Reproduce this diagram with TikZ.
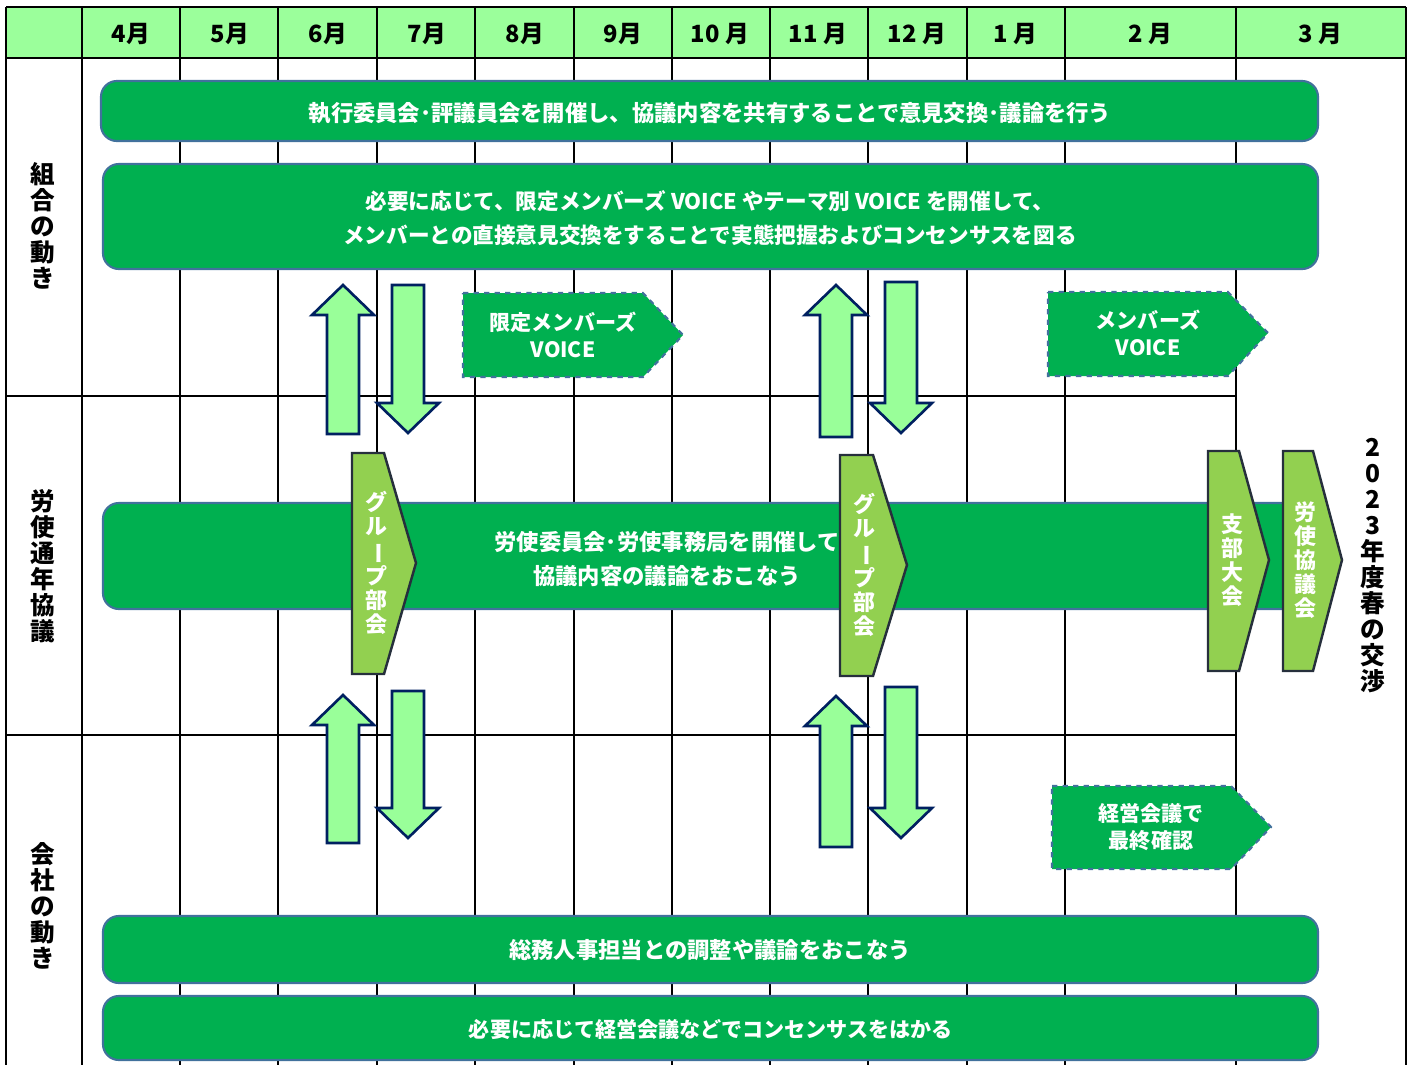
\documentclass[tikz,border=0pt]{standalone}
\usepackage{fontspec}
\usepackage{graphicx}
\setmainfont{Noto Sans CJK JP}
\newfontfamily\jp{Noto Sans CJK JP}
\definecolor{barGreen}{HTML}{00B050}
\definecolor{barEdge}{HTML}{41719C}
\definecolor{headGreen}{HTML}{9BFF9B}
\definecolor{pentGreen}{HTML}{92D050}
\definecolor{pentEdge}{HTML}{262F3C}
\definecolor{arrFill}{HTML}{99FF99}
\definecolor{arrEdge}{HTML}{002060}
\newcommand\vlong{\rotatebox[origin=c]{-90}{ー}}
\newcommand\UpArr[4]{% cx, tip y, head base y, bottom y
  \draw[blockarrow] (#1-16,#4) -- (#1-16,#3) -- (#1-31,#3) -- (#1,#2) -- (#1+31,#3) -- (#1+16,#3) -- (#1+16,#4) -- cycle;}
\newcommand\DnArr[4]{% cx, top y, head base y, tip y
  \draw[blockarrow] (#1-16,#2) -- (#1+16,#2) -- (#1+16,#3) -- (#1+31,#3) -- (#1,#4) -- (#1-31,#3) -- (#1-16,#3) -- cycle;}
\tikzset{
  gridline/.style={line width=1.5pt, black},
  bar/.style={fill=barGreen, draw=barEdge, line width=1.2pt, rounded corners=9pt},
  dpent/.style={fill=barGreen, draw=barEdge, dashed, line width=1.2pt},
  lpent/.style={fill=pentGreen, draw=pentEdge, line width=1.4pt},
  blockarrow/.style={fill=arrFill, draw=arrEdge, line width=1.5pt, line join=miter},
  wtxt/.style={text=white, font=\jp\bfseries\fontsize{12.7}{19.2}\selectfont, align=center, inner sep=0pt},
  htxt/.style={text=black, font=\jp\bfseries\fontsize{13.5}{15}\selectfont, inner sep=0pt},
  vtxt/.style={text=black, font=\jp\bfseries\fontsize{14}{14.8}\selectfont, align=center, inner sep=0pt},
  vwtxt/.style={text=white, font=\jp\bfseries\fontsize{12.5}{13.6}\selectfont, align=center, inner sep=0pt},
}
\begin{document}
\begin{tikzpicture}[x=0.02cm, y=-0.02cm]
\useasboundingbox (0,0) rectangle (1411,1065);
% header
\fill[headGreen] (6,7) rectangle (1406,58);
% grid
\foreach \xx in {6,82,180,278,377,475,574,672,770,868,967,1065,1236,1406}
  \draw[gridline] (\xx,7) -- (\xx,1065);
\draw[gridline] (6,7) -- (1406,7);
\draw[gridline] (6,58) -- (1406,58);
\draw[gridline] (6,396) -- (1236,396);
\draw[gridline] (6,735) -- (1236,735);
% header labels
\foreach \xx/\lab [count=\i] in {131/4月,230/5月,328/6月,427/7月,525/8月,623/9月,720/10 月,818/11 月,917/12 月,1015/1 月,1150/2 月,1320/3 月}
  \node[htxt] (h\i) at (\xx,34) {\lab};
% row labels
\node[vtxt] (r1) at (43,226) {組\\合\\の\\動\\き};
\node[vtxt] (r2) at (43,566) {労\\使\\通\\年\\協\\議};
\node[vtxt] (r3) at (43,906) {会\\社\\の\\動\\き};
\node[vtxt] (spring) at (1373,566) {2\\0\\2\\3\\年\\度\\春\\の\\交\\渉};
% bars
\draw[bar] (101,81) rectangle (1318,141);
\node[wtxt] (b1) at (710,113) {執行委員会･評議員会を開催し、協議内容を共有することで意見交換･議論を行う};
\draw[bar] (103,164) rectangle (1318,269);
\node[wtxt,font=\jp\bfseries\fontsize{12.3}{19.2}\selectfont] (b2) at (710,218) {必要に応じて、限定メンバーズ VOICE やテーマ別 VOICE を開催して、\\メンバーとの直接意見交換をすることで実態把握およびコンセンサスを図る};
\draw[bar] (103,503) rectangle (1305,609);
\node[wtxt] (b3) at (667,559) {労使委員会･労使事務局を開催して\\協議内容の議論をおこなう};
\draw[bar] (103,916) rectangle (1318,983);
\node[wtxt] (b4) at (710,950) {総務人事担当との調整や議論をおこなう};
\draw[bar] (103,996) rectangle (1318,1060);
\node[wtxt,font=\jp\bfseries\fontsize{12}{18}\selectfont] (b5) at (711,1029) {必要に応じて経営会議などでコンセンサスをはかる};
% dashed pentagons
\draw[dpent] (463,293) -- (643,293) -- (683,335) -- (643,377) -- (463,377) -- cycle;
\node[wtxt,font=\jp\bfseries\fontsize{12}{15.5}\selectfont] (p1) at (563,335) {限定メンバーズ\\VOICE};
\draw[dpent] (1048,292) -- (1228,292) -- (1268,333) -- (1228,376) -- (1048,376) -- cycle;
\node[wtxt,font=\jp\bfseries\fontsize{12}{15.5}\selectfont] (p2) at (1148,333) {メンバーズ\\VOICE};
\draw[dpent] (1052,786) -- (1231,786) -- (1271,827) -- (1231,869) -- (1052,869) -- cycle;
\node[wtxt,font=\jp\bfseries\fontsize{12}{15}\selectfont] (p3) at (1151,827) {経営会議で\\最終確認};
% light pentagons
\draw[lpent] (352,453) -- (384,453) -- (416,563) -- (384,674) -- (352,674) -- cycle;
\node[vwtxt] (g1) at (376,563) {グ\\ル\\\vlong\\プ\\部\\会};
\draw[lpent] (840,455) -- (873,455) -- (907,565) -- (873,676) -- (840,676) -- cycle;
\node[vwtxt] (g2) at (864,565) {グ\\ル\\\vlong\\プ\\部\\会};
\draw[lpent] (1208,451) -- (1239,451) -- (1269,560) -- (1239,671) -- (1208,671) -- cycle;
\node[vwtxt] (g3) at (1232,560) {支\\部\\大\\会};
\draw[lpent] (1283,451) -- (1313,451) -- (1342,560) -- (1313,671) -- (1283,671) -- cycle;
\node[vwtxt] (g4) at (1305,560) {労\\使\\協\\議\\会};
% block arrows
\UpArr{343}{285}{315}{434}
\DnArr{408}{285}{403}{433}
\UpArr{836}{285}{315}{437}
\DnArr{901}{282}{403}{433}
\UpArr{343}{695}{725}{843}
\DnArr{408}{691}{808}{838}
\UpArr{836}{696}{726}{847}
\DnArr{901}{687}{808}{838}
\end{tikzpicture}
\end{document}
